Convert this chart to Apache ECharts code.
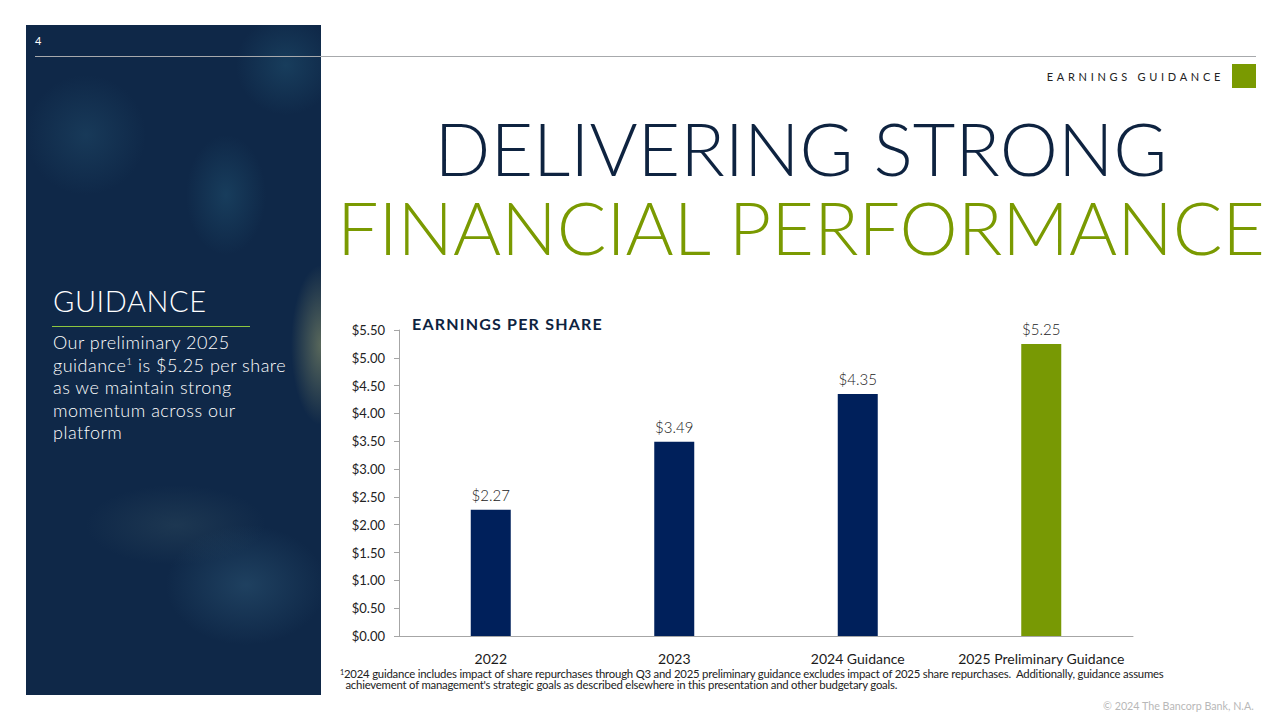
<!DOCTYPE html>
<html>
<head>
<meta charset="utf-8">
<script src="https://cdn.jsdelivr.net/npm/echarts@6/dist/echarts.min.js"></script>
<style>
  html, body { margin: 0; padding: 0; background: #fff; }
  #slide { position: relative; width: 1280px; height: 720px; overflow: hidden; font-family: Lato, 'Noto Sans', sans-serif; }
  #panel {
    position: absolute; left: 26px; top: 25px; width: 295px; height: 670px;
    background:
      radial-gradient(ellipse 30px 80px at 295px 320px, rgba(200,200,120,0.4), rgba(200,200,120,0) 100%),
      radial-gradient(ellipse 60px 60px at 60px 110px, rgba(40,90,120,0.35), rgba(40,90,120,0) 100%),
      radial-gradient(ellipse 40px 60px at 200px 170px, rgba(40,100,130,0.35), rgba(40,100,130,0) 100%),
      radial-gradient(ellipse 50px 50px at 260px 40px, rgba(40,100,130,0.35), rgba(40,100,130,0) 100%),
      radial-gradient(ellipse 80px 60px at 220px 560px, rgba(60,110,140,0.35), rgba(60,110,140,0) 100%),
      radial-gradient(ellipse 90px 40px at 150px 500px, rgba(70,100,110,0.25), rgba(70,100,110,0) 100%),
      #0f2848;
  }
  .abs { position: absolute; white-space: nowrap; }
  #pageno { left: 35px; top: 34px; color: #fff; font-size: 11px; }
  #topline { left: 35px; top: 56px; width: 1221px; height: 1px; background: #a7a9ac; }
  #section { right: 56px; top: 70px; font-size: 11px; letter-spacing: 3.7px; color: #222; }
  #square { left: 1232px; top: 64px; width: 24px; height: 24px; background: #7a9a01; }
  #headline { font-weight: 300; font-size: 73.5px; line-height: 79px; left: 0; top: 108px; width: 1602px; text-align: center; white-space: pre-line; color: #7a9a01; }
  #headline::first-line { color: #0e2340; }
  #guid { left: 53px; top: 283px; color: #fff; font-weight: 300; font-size: 29px; letter-spacing: 0.6px; }
  #gline { left: 52px; top: 326px; width: 198px; height: 1px; background: #8dc63f; }
  #para { left: 53px; top: 331px; color: #fff; font-size: 18px; line-height: 22.5px; font-weight: 300; letter-spacing: 0.5px; }
  #para sup { font-size: 10px; line-height: 0; position: relative; top: -7px; vertical-align: baseline; }
  #eps { left: 412px; top: 314px; font-size: 16px; font-weight: bold; color: #0e2340; letter-spacing: 1.2px; }
  #foot { left: 340px; top: 668px; font-size: 11px; line-height: 11px; color: #222; transform-origin: 0 0; transform: scaleX(1.03); letter-spacing: -0.2px; }
  #foot sup { font-size: 7px; line-height: 0; position: relative; top: -3px; vertical-align: baseline; }
  #copy { right: 26px; top: 700px; font-size: 10.5px; color: #b8b8b8; transform-origin: 100% 0; transform: scaleX(1.02); }
  #chart { position: absolute; left: 0; top: 0; width: 1280px; height: 720px; }
</style>
</head>
<body>
<div id="slide">
  <div id="panel"></div>
  <div class="abs" id="pageno">4</div>
  <div class="abs" id="topline"></div>
  <div class="abs" id="section">EARNINGS GUIDANCE</div>
  <div class="abs" id="square"></div>
  <div class="abs" id="headline">DELIVERING STRONG
FINANCIAL PERFORMANCE</div>
  <div class="abs" id="guid">GUIDANCE</div>
  <div class="abs" id="gline"></div>
  <div class="abs" id="para">Our preliminary 2025<br>guidance<sup>1</sup> is $5.25 per share<br>as we maintain strong<br>momentum across our<br>platform</div>
  <div class="abs" id="foot"><sup>1</sup>2024 guidance includes impact of share repurchases through Q3 and 2025 preliminary guidance excludes impact of 2025 share repurchases.&nbsp; Additionally, guidance assumes<br>&nbsp;&nbsp;achievement of management's strategic goals as described elsewhere in this presentation and other budgetary goals.</div>
  <div class="abs" id="copy">© 2024 The Bancorp Bank, N.A.</div>
  <div id="chart"></div>
  <div class="abs" id="eps">EARNINGS PER SHARE</div>
</div>
<script>
const categories = ['2022', '2023', '2024 Guidance', '2025 Preliminary Guidance']
const eps = [2.27, 3.49, 4.35, 5.25]
const barColors = ['#00205b', '#00205b', '#00205b', '#789904']

const chart = echarts.init(document.getElementById('chart'), null, { renderer: 'svg' })

const options = {
    animation: false,
    grid: {
        left: 399,
        right: 147,
        top: 330,
        bottom: 84
    },
    xAxis: {
        type: 'category',
        data: categories,
        axisLine: { lineStyle: { color: '#a6a6a6', width: 1 } },
        axisTick: { show: false },
        axisLabel: {
            interval: 0,
            margin: 15,
            fontFamily: 'Lato',
            fontSize: 14,
            color: '#1a1a1a'
        }
    },
    yAxis: {
        type: 'value',
        min: 0,
        max: 5.5,
        interval: 0.5,
        splitLine: { show: false },
        axisLine: { show: true, lineStyle: { color: '#a6a6a6', width: 1 } },
        axisTick: { show: true, length: 5, lineStyle: { color: '#a6a6a6' } },
        axisLabel: {
            margin: 14,
            fontFamily: 'Lato',
            fontSize: 13,
            color: '#222',
            formatter: v => '$' + v.toFixed(2)
        }
    },
    series: [{
        type: 'bar',
        barWidth: 40,
        data: eps.map((v, i) => ({ value: v, itemStyle: { color: barColors[i] } })),
        label: {
            show: true,
            position: 'top',
            distance: 7,
            fontFamily: 'Lato',
            fontSize: 15,
            fontWeight: 300,
            color: '#222',
            formatter: p => '$' + p.value.toFixed(2)
        }
    }]
}

chart.setOption(options)
</script>
</body>
</html>
